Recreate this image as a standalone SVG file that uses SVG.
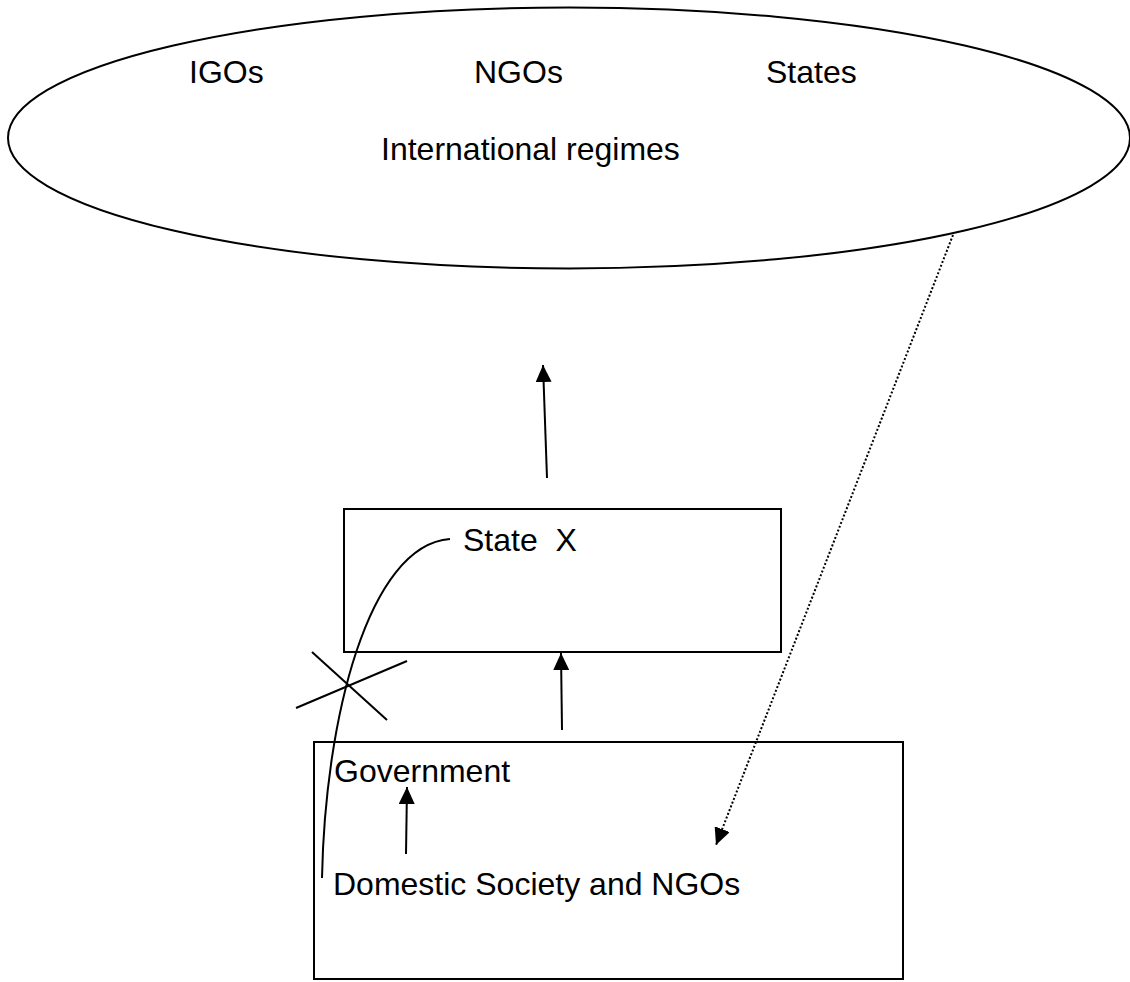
<svg xmlns="http://www.w3.org/2000/svg" width="1130" height="982" viewBox="0 0 1130 982">
<style>
.s{fill:none;stroke:#000;stroke-width:2}
.t{font-family:"Liberation Sans",Arial,sans-serif;font-size:32px;fill:#000}
</style>
<defs>
<marker id="ah" markerUnits="userSpaceOnUse" markerWidth="18" markerHeight="16" refX="17" refY="8" orient="auto">
<path d="M0,0 L17,8 L0,16 Z" fill="#000"/>
</marker>
</defs>
<rect width="1130" height="982" fill="#fff"/>
<g id="international">
<ellipse class="s" cx="569" cy="138" rx="561" ry="130.5"/>
<text class="t" x="189" y="83">IGOs</text>
<text class="t" x="474" y="83">NGOs</text>
<text class="t" x="766" y="83">States</text>
<text class="t" x="381" y="160">International regimes</text>
</g>
<g id="stateX">
<rect class="s" x="344" y="509" width="437" height="143"/>
<text class="t" x="463" y="551" xml:space="preserve">State  X</text>
</g>
<g id="domestic">
<rect class="s" x="314" y="742" width="589" height="237"/>
<text class="t" x="334" y="782">Government</text>
<text class="t" x="333" y="895">Domestic Society and NGOs</text>
</g>
<g id="connectors">
<line class="s" x1="547" y1="478" x2="543" y2="365" marker-end="url(#ah)"/>
<line class="s" x1="562" y1="730" x2="561" y2="653" marker-end="url(#ah)"/>
<line class="s" x1="406" y1="854" x2="407" y2="787" marker-end="url(#ah)"/>
<line fill="none" stroke="#000" stroke-width="2" stroke-dasharray="2,2" x1="953" y1="235" x2="716" y2="845" marker-end="url(#ah)"/>
<path class="s" d="M322,878 C325,720 368,545 450,539"/>
<line class="s" x1="312" y1="652" x2="387" y2="720"/>
<line class="s" x1="296" y1="708" x2="407" y2="661"/>
</g>
</svg>
